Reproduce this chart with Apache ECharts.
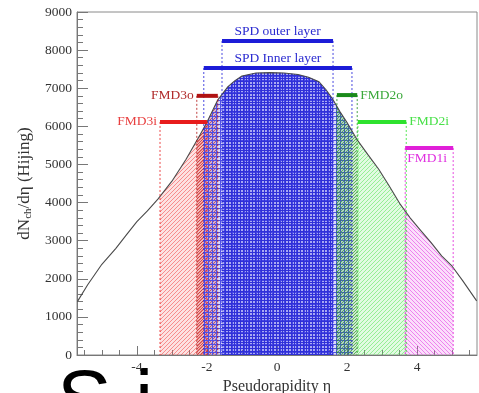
<!DOCTYPE html>
<html><head><meta charset="utf-8">
<script src="https://cdn.jsdelivr.net/npm/echarts@6/dist/echarts.min.js"></script>
<style>html,body{margin:0;padding:0;background:#fff}#c{width:479px;height:393px}</style>
</head><body><div id="c"></div>
<script>
// ---- data ----
const curveEta = [-5.7,-5.4,-5.0,-4.6,-4.3,-4.0,-3.7,-3.4,-3.0,-2.6,-2.2,-2.0,-1.7,-1.4,-1.2,-1.0,-0.6,-0.2,0.2,0.6,0.9,1.2,1.4,1.6,1.8,2.0,2.3,2.6,2.9,3.2,3.5,3.8,4.1,4.4,4.7,5.0,5.3,5.7];
const curveN   = [1400,1850,2380,2800,3150,3500,3780,4090,4560,5130,5770,6110,6680,7040,7200,7320,7400,7410,7400,7360,7290,7170,6960,6700,6380,6100,5630,5250,4880,4440,3980,3600,3270,2950,2600,2330,1950,1420];
const detectors = ['SPD outer layer','SPD Inner layer','FMD3o','FMD3i','FMD2o','FMD2i','FMD1i'];
const etaMin   = [-1.57,-2.09,-2.29,-3.34,1.71,2.31,3.66];
const etaMax   = [1.60,2.14,-1.69,-2.00,2.29,3.69,5.03];
const barLevel = [8240,7530,6800,6115,6820,6115,5430];
const xMajorTicks = [-4,-2,0,2,4];
const xMinorTicks = [-5.5,-5,-4.5,-3.5,-3,-2.5,-1.5,-1,-0.5,0.5,1,1.5,2.5,3,3.5,4.5,5,5.5];

// ---- styles ----
const SERIF = '"Liberation Serif","DejaVu Serif",serif';
const SANS = '"Liberation Sans",Arial,sans-serif';
const barColor  = ['#1c1cd8','#1c1cd8','#b01212','#e81c1c','#1a8a1a','#2ee22e','#e020d8'];
const textColor = ['#2a2ad0','#2a2ad0','#b02a2a','#e84040','#3aa83a','#48e048','#e030e0'];
const labelPlace = ['top','top','left','left','right','right','below'];
const fillKind  = ['grid','grid','/','/','/','/','\\'];
const fillSpace = [3,4,3,4,3,4,4];
const fillColor = ['#3030d8','#5050e6','rgba(200,40,40,0.75)','rgba(240,70,70,0.55)',
                   'rgba(40,160,40,0.7)','rgba(70,225,70,0.5)','rgba(230,70,230,0.6)'];
const tintColor = ['rgba(60,60,225,0.30)','rgba(80,80,235,0.22)','rgba(200,40,40,0.22)','rgba(245,110,110,0.2)',
                   'rgba(40,150,40,0.22)','rgba(110,235,110,0.2)','rgba(235,110,235,0.22)'];

function curveAt(e) {
  for (let k = 0; k < curveEta.length - 1; k++) {
    if (e >= curveEta[k] && e <= curveEta[k+1]) {
      const t = (e - curveEta[k]) / (curveEta[k+1] - curveEta[k]);
      return curveN[k] + t * (curveN[k+1] - curveN[k]);
    }
  }
  return 0;
}

// builds hatch path data inside the pixel region under the polyline pts down to y0
function hatchPath(pts, y0, kind, sp) {
  const xa = pts[0][0], xb = pts[pts.length-1][0];
  let minTop = Infinity; pts.forEach(p => { if (p[1] < minTop) minTop = p[1]; });
  const top = x => {
    for (let k = 0; k < pts.length - 1; k++) {
      if (x >= pts[k][0] && x <= pts[k+1][0]) {
        const w = pts[k+1][0] - pts[k][0];
        const t = w > 0 ? (x - pts[k][0]) / w : 0;
        return pts[k][1] + t * (pts[k+1][1] - pts[k][1]);
      }
    }
    return y0;
  };
  let d = '';
  const scan = (yOf) => {
    let start = null, prevX = null, prevY = null;
    for (let x = xa; x <= xb + 1e-6; x += 0.5) {
      const y = yOf(x);
      const inside = y <= y0 && y >= top(x);
      if (inside && start === null) start = [x, y];
      if (!inside && start !== null) { d += 'M' + start[0] + ' ' + start[1] + 'L' + prevX + ' ' + prevY; start = null; }
      prevX = x; prevY = y;
    }
    if (start !== null) d += 'M' + start[0] + ' ' + start[1] + 'L' + prevX + ' ' + prevY;
  };
  if (kind === '/') {
    for (let c = Math.ceil((xa + minTop) / sp) * sp; c <= xb + y0; c += sp) scan(x => c - x);
  } else if (kind === '\\') {
    for (let c = Math.ceil((minTop - xb) / sp) * sp; c <= y0 - xa; c += sp) scan(x => x + c);
  } else {
    for (let x = Math.ceil(xa / sp) * sp + 0.5; x <= xb; x += sp) d += 'M' + x + ' ' + y0 + 'L' + x + ' ' + top(x);
    for (let yy = Math.ceil(minTop / sp) * sp + 0.5; yy <= y0; yy += sp) scan(() => yy);
  }
  return d;
}

function fillSeries(i, z) {
  return {
    type: 'custom', name: detectors[i] + ' acceptance', z: z,
    data: [[etaMin[i], etaMax[i], barLevel[i]]],
    encode: {x: [0,1], y: 2},
    renderItem: function (params, api) {
      const a = etaMin[i], b = etaMax[i];
      const pts = [api.coord([a, curveAt(a)])];
      for (let k = 0; k < curveEta.length; k++) {
        if (curveEta[k] > a && curveEta[k] < b) pts.push(api.coord([curveEta[k], curveN[k]]));
      }
      pts.push(api.coord([b, curveAt(b)]));
      const y0 = api.coord([0, 0])[1];
      const poly = [[pts[0][0], y0]].concat(pts, [[pts[pts.length-1][0], y0]]);
      return {type: 'group', children: [
        {type: 'polygon', shape: {points: poly}, style: {fill: tintColor[i], stroke: null}},
        {type: 'path', shape: {pathData: hatchPath(pts, y0, fillKind[i], fillSpace[i])},
         style: {stroke: fillColor[i], lineWidth: 1, fill: null}}
      ]};
    }
  };
}

const chart = echarts.init(document.getElementById('c'), null, {renderer: 'canvas'});
const option = {
  animation: false,
  backgroundColor: '#fff',
  grid: {left: 77, right: 2, top: 12, bottom: 38, containLabel: false, outerBoundsMode: 'none',
         show: true, borderColor: '#8a8a8a', borderWidth: 1, backgroundColor: 'transparent'},
  xAxis: [{
    type: 'value', min: -5.71, max: 5.71,
    name: 'Pseudorapidity η', nameLocation: 'middle', nameGap: 19,
    nameTextStyle: {fontFamily: SERIF, fontSize: 16, color: '#333'},
    axisLine: {onZero: false, lineStyle: {color: '#777', width: 1}},
    axisTick: {inside: true, length: 9, customValues: xMajorTicks, lineStyle: {color: '#777'}},
    axisLabel: {customValues: xMajorTicks, margin: 5, fontFamily: SERIF, fontSize: 13.5, color: '#333'},
    splitLine: {show: false}
  }, {
    type: 'value', min: -5.71, max: 5.71, position: 'bottom',
    axisLine: {show: false, onZero: false},
    axisTick: {inside: true, length: 5, customValues: xMinorTicks, lineStyle: {color: '#777'}},
    axisLabel: {show: false}, splitLine: {show: false}
  }],
  yAxis: {
    type: 'value', min: 0, max: 9000, interval: 1000,
    name: '{a|dN}{s|ch}{a|/dη (Hijing)}', nameLocation: 'middle', nameGap: 38, nameRotate: 90,
    nameTextStyle: {fontFamily: SERIF, fontSize: 17, color: '#333',
      rich: {a: {fontFamily: SERIF, fontSize: 17, color: '#333', lineHeight: 20},
             s: {fontFamily: SERIF, fontSize: 11, color: '#333', verticalAlign: 'bottom', lineHeight: 20, padding: [7,0,0,0]}}},
    axisLine: {onZero: false, lineStyle: {color: '#777', width: 1}},
    axisTick: {inside: true, length: 11, lineStyle: {color: '#777'}},
    minorTick: {show: true, splitNumber: 5, length: 6, lineStyle: {color: '#777'}},
    axisLabel: {margin: 5, fontFamily: SERIF, fontSize: 13.5, color: '#333', formatter: v => String(v)},
    splitLine: {show: false}
  },
  series: [
    fillSeries(3, 1), fillSeries(2, 1), fillSeries(1, 1), fillSeries(0, 1),
    fillSeries(4, 1), fillSeries(5, 1), fillSeries(6, 1),
  {
    type: 'line', name: 'Hijing', z: 3,
    data: curveEta.map((e, k) => [e, curveN[k]]),
    showSymbol: false, symbol: 'none', smooth: false,
    lineStyle: {color: '#4a4a4a', width: 1.1}
  }, {
    type: 'custom', name: 'detectors', z: 4,
    data: detectors.map((d, i) => [etaMin[i], etaMax[i], barLevel[i]]),
    encode: {x: [0,1], y: 2},
    renderItem: function (params, api) {
      const i = params.dataIndex;
      const p1 = api.coord([etaMin[i], barLevel[i]]);
      const p2 = api.coord([etaMax[i], barLevel[i]]);
      const y0 = api.coord([0, 0])[1];
      const col = barColor[i];
      const children = [
        {type: 'line', shape: {x1: p1[0], y1: p1[1], x2: p1[0], y2: y0},
         style: {stroke: col, lineWidth: 1, lineDash: [2, 2], opacity: 0.8}},
        {type: 'line', shape: {x1: p2[0], y1: p2[1], x2: p2[0], y2: y0},
         style: {stroke: col, lineWidth: 1, lineDash: [2, 2], opacity: 0.8}},
        {type: 'line', shape: {x1: p1[0], y1: p1[1], x2: p2[0], y2: p2[1]},
         style: {stroke: col, lineWidth: 4}}
      ];
      let tx, ty, al, va;
      const pl = labelPlace[i];
      if (pl === 'top') { tx = (p1[0] + p2[0]) / 2; ty = p1[1] - 3; al = 'center'; va = 'bottom'; }
      else if (pl === 'left') { tx = p1[0] - 3; ty = p1[1]; al = 'right'; va = 'middle'; }
      else if (pl === 'right') { tx = p2[0] + 3; ty = p2[1]; al = 'left'; va = 'middle'; }
      else { tx = p1[0] + 2; ty = p1[1] + 3; al = 'left'; va = 'top'; }
      children.push({type: 'text', x: tx, y: ty,
        style: {text: detectors[i], fill: textColor[i], fontFamily: SERIF, fontSize: 13.5, align: al, verticalAlign: va}});
      return {type: 'group', children: children};
    }
  }],
  graphic: [
    {type: 'text', left: 57, top: 363, style: {text: 'S', fontFamily: SANS, fontSize: 82, fill: '#000'}},
    {type: 'text', left: 135, top: 363, style: {text: 'i', fontFamily: SANS, fontSize: 82, fill: '#000'}}
  ]
};
chart.setOption(option);
</script></body></html>
